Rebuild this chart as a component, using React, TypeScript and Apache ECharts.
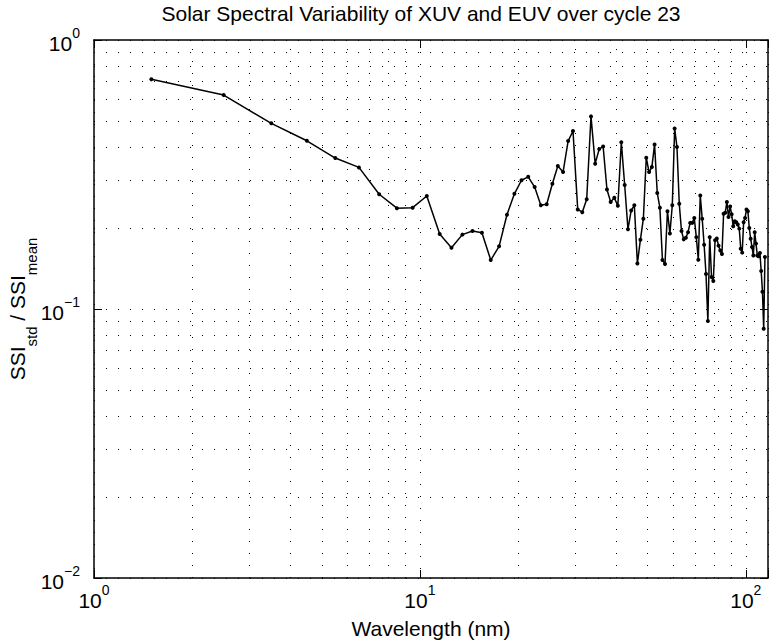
import React, { useEffect, useRef } from 'react';
import * as echarts from 'echarts';

const chartTitle = 'Solar Spectral Variability of XUV and EUV over cycle 23';
const xAxisName = 'Wavelength (nm)';

// Wavelength bin centres (nm)
const wavelength = [
  1.5, 2.5, 3.5, 4.5, 5.5, 6.5, 7.5, 8.5, 9.5, 10.5,
  11.5, 12.5, 13.5, 14.5, 15.5, 16.5, 17.5, 18.5, 19.5, 20.5,
  21.5, 22.5, 23.5, 24.5, 25.5, 26.5, 27.5, 28.5, 29.5, 30.5,
  31.5, 32.5, 33.5, 34.5, 35.5, 36.5, 37.5, 38.5, 39.5, 40.5,
  41.5, 42.5, 43.5, 44.5, 45.5, 46.5, 47.5, 48.5, 49.5, 50.5,
  51.5, 52.5, 53.5, 54.5, 55.5, 56.5, 57.5, 58.5, 59.5, 60.5,
  61.5, 62.5, 63.5, 64.5, 65.5, 66.5, 67.5, 68.5, 69.5, 70.5,
  71.5, 72.5, 73.5, 74.5, 75.5, 76.5, 77.5, 78.5, 79.5, 80.5,
  81.5, 82.5, 83.5, 84.5, 85.5, 86.5, 87.5, 88.5, 89.5, 90.5,
  91.5, 92.5, 93.5, 94.5, 95.5, 96.5, 97.5, 98.5, 99.5, 100.5,
  101.5, 102.5, 103.5, 104.5, 105.5, 106.5, 107.5, 108.5, 109.5, 110.5,
  111.5, 112.5, 113.5, 114.5,
];

// SSI_std / SSI_mean
const ssiRatio = [
  0.714, 0.624, 0.49, 0.422, 0.364, 0.336, 0.267, 0.237, 0.238, 0.263,
  0.19, 0.169, 0.189, 0.195, 0.192, 0.152, 0.171, 0.224, 0.268, 0.301,
  0.31, 0.284, 0.243, 0.245, 0.292, 0.34, 0.323, 0.421, 0.459, 0.2345,
  0.229, 0.256, 0.52, 0.347, 0.393, 0.402, 0.278, 0.25, 0.259, 0.242,
  0.417, 0.289, 0.198, 0.2325, 0.243, 0.1477, 0.181, 0.2166, 0.365, 0.323,
  0.337, 0.409, 0.27, 0.238, 0.152, 0.147, 0.231, 0.191, 0.243, 0.469,
  0.4, 0.246, 0.195, 0.1815, 0.184, 0.193, 0.209, 0.209, 0.218, 0.185,
  0.1525, 0.264, 0.2166, 0.1734, 0.135, 0.0902, 0.185, 0.1315, 0.127, 0.18,
  0.183, 0.172, 0.165, 0.16, 0.226, 0.228, 0.25, 0.2197, 0.2405, 0.225,
  0.203, 0.212, 0.21, 0.206, 0.199, 0.1676, 0.162, 0.21, 0.218, 0.2345,
  0.231, 0.2, 0.1825, 0.17, 0.158, 0.193, 0.175, 0.158, 0.157, 0.1614,
  0.1384, 0.116, 0.0845, 0.156,
];

const xMinorTicks = [2, 3, 4, 5, 6, 7, 8, 9, 20, 30, 40, 50, 60, 70, 80, 90];
const yMinorTicks = [
  0.02, 0.03, 0.04, 0.05, 0.06, 0.07, 0.08, 0.09,
  0.2, 0.3, 0.4, 0.5, 0.6, 0.7, 0.8, 0.9,
];

const FONT = '"Liberation Sans", Arial, Helvetica, sans-serif';

const powLabel = (v: number) => {
  const e = Math.log10(v);
  const r = Math.round(e);
  if (Math.abs(e - r) > 1e-6) return '';
  const s = r < 0 ? '\u2212' + Math.abs(r) : String(r);
  return `{b|10}{e|${s}}`;
};

const labelRich = {
  b: { fontSize: 21, fontFamily: FONT, color: '#000', lineHeight: 28, verticalAlign: 'bottom' },
  e: { fontSize: 14, fontFamily: FONT, color: '#000', lineHeight: 14, verticalAlign: 'top' },
};

const gridDot = { type: [1, 11], color: '#000', width: 1 };

export default function App() {
  const ref = useRef<HTMLDivElement>(null);
  useEffect(() => {
    const chart = echarts.init(ref.current!, null, { renderer: 'svg' });
    const axisCommon = {
      type: 'log',
      logBase: 10,
      axisLine: { show: true, onZero: false, lineStyle: { color: '#000', width: 1.5 } },
      axisTick: { show: true, inside: true, length: 8, lineStyle: { color: '#000', width: 1 } },
    };
    chart.setOption({
      animation: false,
      backgroundColor: '#fff',
      title: {
        text: chartTitle,
        left: 416,
        top: -2,
        textAlign: 'center',
        textStyle: { fontFamily: FONT, fontSize: 21, fontWeight: 'normal', color: '#000' },
      },
      grid: { left: 94, right: 2, top: 40, bottom: 63, outerBoundsMode: 'none' },
      xAxis: [
        {
          ...axisCommon,
          min: 1,
          max: 117,
          position: 'bottom',
          name: xAxisName,
          nameLocation: 'middle',
          nameGap: 38,
          nameMoveOverlap: false,
          nameTextStyle: { fontFamily: FONT, fontSize: 21, color: '#000', lineHeight: 24 },
          axisLabel: { formatter: powLabel, margin: 5, rich: labelRich },
          splitLine: { show: true, lineStyle: gridDot },
        },
        {
          ...axisCommon,
          min: 1,
          max: 117,
          position: 'top',
          axisLabel: { show: false },
          splitLine: { show: false },
        },
      ],
      yAxis: [
        {
          ...axisCommon,
          min: 0.01,
          max: 1,
          position: 'left',
          name: '{m|SSI}{s|std}{m| / SSI}{s|mean}',
          nameLocation: 'middle',
          nameGap: 55,
          nameRotate: 90,
          nameMoveOverlap: false,
          nameTextStyle: {
            rich: {
              m: { fontSize: 21, fontFamily: FONT, color: '#000', lineHeight: 21, verticalAlign: 'top' },
              s: { fontSize: 15, fontFamily: FONT, color: '#000', lineHeight: 32, verticalAlign: 'bottom' },
            },
          },
          axisLabel: { formatter: powLabel, margin: 14, rich: labelRich },
          splitLine: { show: true, lineStyle: gridDot },
        },
        {
          ...axisCommon,
          min: 0.01,
          max: 1,
          position: 'right',
          axisLabel: { show: false },
          splitLine: { show: false },
        },
      ],
      series: [
        {
          type: 'line',
          xAxisIndex: 0,
          yAxisIndex: 0,
          data: wavelength.map((w, i) => [w, ssiRatio[i]]),
          symbol: 'circle',
          symbolSize: 4,
          showSymbol: true,
          lineStyle: { color: '#000', width: 1.5 },
          itemStyle: { color: '#000' },
          z: 5,
          markLine: {
            silent: true,
            symbol: 'none',
            label: { show: false },
            emphasis: { disabled: true },
            lineStyle: gridDot,
            data: [
              ...xMinorTicks.map((v) => ({ xAxis: v })),
              ...yMinorTicks.map((v) => ({ yAxis: v })),
            ],
          },
        },
      ],
    });
    return () => chart.dispose();
  }, []);
  return (
    <div
      ref={ref}
      style={{ position: 'fixed', left: 0, top: 0, width: 770, height: 641, background: '#fff' }}
    />
  );
}
